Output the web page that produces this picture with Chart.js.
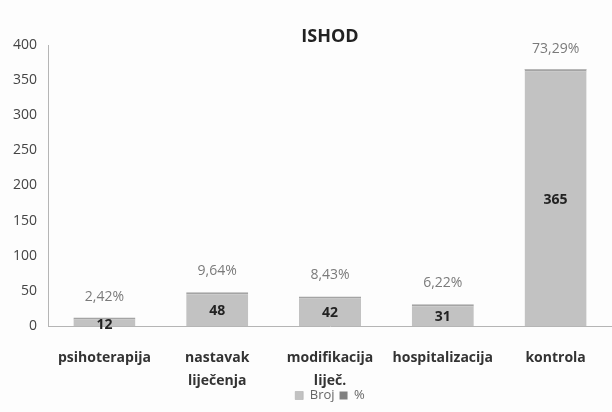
<!DOCTYPE html>
<html>
<head>
<meta charset="utf-8">
<script src="https://cdn.jsdelivr.net/npm/chart.js@4"></script>
<style>
  html, body { margin: 0; padding: 0; background: #fdfdfd; }
  #wrap { width: 612px; height: 412px; }
</style>
</head>
<body>
<div id="wrap"><canvas id="chart-ishod"></canvas></div>
<script>
// ── Podaci ──────────────────────────────────────────
const KATEGORIJE = ['psihoterapija', ['nastavak', 'liječenja'], ['modifikacija', 'liječ.'], 'hospitalizacija', 'kontrola'];
const BROJ       = [12, 48, 42, 31, 365];
const POSTOTAK   = [2.42, 9.64, 8.43, 6.22, 73.29];
const Y_TICKS    = [0, 50, 100, 150, 200, 250, 300, 350, 400];

const FONT = "'Open Sans', 'DejaVu Sans', sans-serif";

// naslov centriran nad područjem grafa + oznake na stupcima
const oznake = {
  id: 'oznake',
  afterDraw(chart) {
    const { ctx } = chart;
    ctx.save();
    ctx.textAlign = 'center';
    ctx.textBaseline = 'middle';

    ctx.font = 'bold 18px ' + FONT;
    ctx.fillStyle = '#222';
    ctx.fillText('ISHOD', 330, 37);

    const meta = chart.getDatasetMeta(0);
    meta.data.forEach((bar, i) => {
      const sredina = (bar.y + bar.base) / 2;
      ctx.font = 'bold 14px ' + FONT;
      ctx.fillStyle = '#222';
      ctx.fillText(String(BROJ[i]), bar.x, sredina + (BROJ[i] < 20 ? 3 : 2));

      ctx.font = '14px ' + FONT;
      ctx.fillStyle = '#7a7a7a';
      ctx.fillText(POSTOTAK[i].toFixed(2).replace('.', ',') + '%', bar.x, bar.y - 21);
    });
    ctx.restore();
  }
};

new Chart(document.getElementById('chart-ishod'), {
  type: 'bar',
  data: {
    labels: KATEGORIJE,
    datasets: [
      {
        label: 'Broj',
        data: BROJ,
        backgroundColor: '#c2c2c2',
        borderColor: '#a4a4a4',
        borderWidth: { top: 2, left: 0, right: 0, bottom: 0 },
        borderSkipped: false,
        barPercentage: 0.55,
        categoryPercentage: 1
      },
      {
        label: '%',
        data: POSTOTAK.map(p => p / 100),
        backgroundColor: '#808080',
        barPercentage: 0.55,
        categoryPercentage: 1
      }
    ]
  },
  options: {
    responsive: true,
    maintainAspectRatio: false,
    animation: false,
    layout: { padding: { top: 45, right: -6, left: 2, bottom: 0 } },
    plugins: {
      title: { display: false },
      tooltip: { enabled: false },
      legend: {
        position: 'bottom',
        fullSize: false,
        labels: {
          font: { family: FONT, size: 13 },
          color: '#666',
          boxWidth: 8,
          boxHeight: 8,
          padding: 5
        }
      }
    },
    scales: {
      x: {
        stacked: true,
        grid: { display: false, drawTicks: false },
        border: { color: '#b5b5b5', width: 1 },
        // niža os nego što Chart.js računa; oznake ne smiju biti odrezane
        afterFit: scale => {
          scale.height = 58;
          scale._computeLabelArea = () => null;
        },
        ticks: {
          font: { family: FONT, size: 14, weight: 'bold', lineHeight: 1.64 },
          color: '#333',
          padding: 20.5,
          maxRotation: 0,
          autoSkip: false
        }
      },
      y: {
        stacked: true,
        min: 0,
        max: 400,
        afterBuildTicks: axis => { axis.ticks = Y_TICKS.map(v => ({ value: v })); },
        grid: { display: false, drawTicks: false },
        border: { color: '#b5b5b5', width: 1 },
        ticks: {
          font: { family: FONT, size: 14 },
          color: '#444',
          padding: 11
        }
      }
    }
  },
  plugins: [oznake]
});
</script>
</body>
</html>
